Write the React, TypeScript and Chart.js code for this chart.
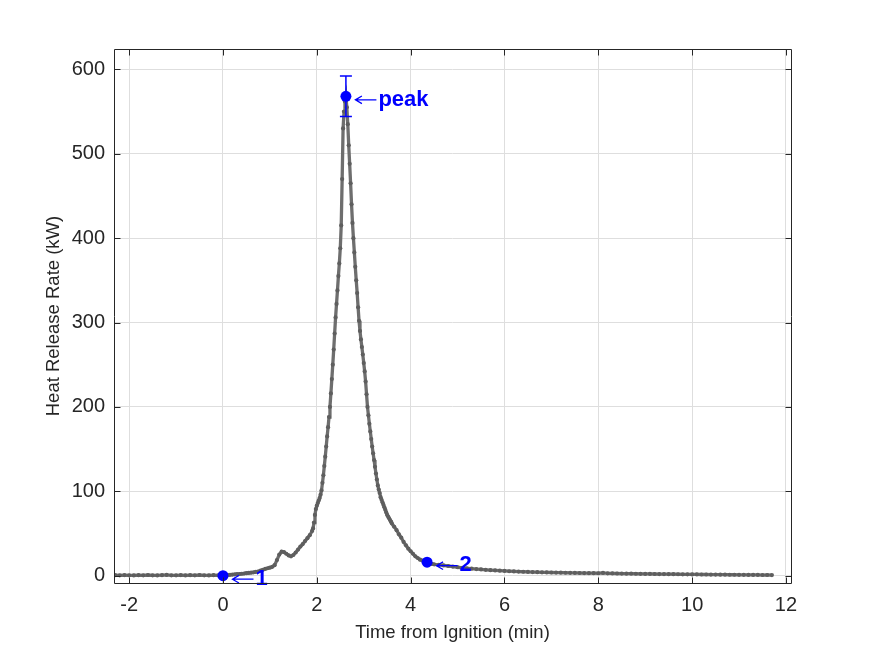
import { useEffect, useRef } from 'react';
import { Chart, registerables } from 'chart.js';

Chart.register(...registerables);

// ---------- data (minutes, kW) ----------
const preTime = [-2.3, -2.2, -2.1, -2.0, -1.9, -1.8, -1.7, -1.6, -1.5, -1.4, -1.3, -1.2, -1.1, -1.0, -0.9, -0.8, -0.7, -0.6, -0.5, -0.4, -0.3, -0.2, -0.1, 0.0];
const preHrr = [0.6, 0.4, 0.7, 0.5, 0.3, 0.6, 0.4, 0.8, 0.5, 0.3, 0.6, 0.9, 0.4, 0.5, 0.7, 0.3, 0.6, 0.4, 0.8, 0.5, 0.3, 0.6, 0.4, 0.3];

const growthTime = [0.05, 0.1, 0.15, 0.2, 0.25, 0.3, 0.35, 0.4, 0.45, 0.5, 0.55, 0.6, 0.65, 0.7, 0.75, 0.8, 0.85, 0.9, 0.95, 1.0, 1.05, 1.1, 1.15, 1.2, 1.25, 1.3, 1.35, 1.4, 1.45, 1.5, 1.55, 1.6, 1.65, 1.7, 1.75, 1.8, 1.85, 1.9];
const growthHrr = [0.6, 0.8, 1.0, 1.3, 1.5, 1.8, 2.0, 2.3, 2.6, 3.0, 3.3, 3.6, 4.0, 4.5, 5.0, 6.0, 7.0, 8.0, 8.8, 9.5, 10.5, 12.5, 18.5, 25, 28.5, 28, 26, 24, 23, 24.5, 27.5, 31, 34.5, 37.5, 41, 44.5, 48, 53];

const peakTime = [1.92, 1.94, 1.96, 1.98, 2.0, 2.02, 2.04, 2.06, 2.08, 2.1, 2.12, 2.14, 2.16, 2.18, 2.2, 2.22, 2.24, 2.26, 2.28, 2.3, 2.32, 2.34, 2.36, 2.38, 2.4, 2.42, 2.44, 2.46, 2.48, 2.5, 2.52, 2.54, 2.56, 2.58, 2.6, 2.62, 2.64, 2.66, 2.68, 2.7, 2.72, 2.74, 2.76, 2.78, 2.8, 2.82, 2.84, 2.86, 2.88, 2.9, 2.92, 2.94, 2.96, 2.98, 3.0, 3.02, 3.04, 3.06, 3.08, 3.1, 3.12, 3.14, 3.16, 3.18, 3.2, 3.22, 3.24, 3.26, 3.28, 3.3, 3.32, 3.34, 3.36, 3.38, 3.4, 3.42, 3.44, 3.46, 3.48, 3.5, 3.52, 3.54, 3.56, 3.58, 3.6];
const peakHrr = [56, 63, 72, 79, 83, 86, 89, 92, 96, 101, 110, 119, 130, 141, 153, 165, 176, 188, 200, 216, 233, 250, 268, 287, 306, 322, 338, 355, 370, 388, 415, 470, 530, 550, 562, 568, 555, 535, 510, 488, 465, 440, 418, 400, 383, 366, 350, 335, 318, 302, 290, 280, 271, 262, 252, 242, 230, 215, 200, 190, 180, 171, 162, 153, 145, 137, 129, 121, 114, 107, 102, 98, 93, 90, 87, 84, 81, 78, 75, 72, 70, 68, 66, 64, 62];

const decayTime = [3.65, 3.7, 3.75, 3.8, 3.85, 3.9, 3.95, 4.0, 4.05, 4.1, 4.15, 4.2, 4.25, 4.3, 4.35, 4.4, 4.45, 4.5];
const decayHrr = [58, 54, 49, 45, 40, 36, 32, 29, 26, 23, 21, 19, 18, 17, 16, 15, 14, 13.5];

const tailTime = [4.6, 4.7, 4.8, 4.9, 5.0, 5.1, 5.2, 5.3, 5.4, 5.5, 5.6, 5.7, 5.8, 5.9, 6.0, 6.1, 6.2, 6.3, 6.4, 6.5, 6.6, 6.7, 6.8, 6.9, 7.0, 7.1, 7.2, 7.3, 7.4, 7.5, 7.6, 7.7, 7.8, 7.9, 8.0, 8.1, 8.2, 8.3, 8.4, 8.5, 8.6, 8.7, 8.8, 8.9, 9.0, 9.1, 9.2, 9.3, 9.4, 9.5, 9.6, 9.7, 9.8, 9.9, 10.0, 10.1, 10.2, 10.3, 10.4, 10.5, 10.6, 10.7, 10.8, 10.9, 11.0, 11.1, 11.2, 11.3, 11.4, 11.5, 11.6, 11.7];
const tailHrr = [12.8, 12.2, 11.5, 10.8, 10.0, 9.4, 8.8, 8.3, 7.8, 7.4, 7.0, 6.6, 6.2, 5.9, 5.6, 5.3, 5.1, 4.9, 4.7, 4.5, 4.3, 4.2, 4.0, 3.9, 3.8, 3.7, 3.6, 3.5, 3.4, 3.3, 3.2, 3.1, 3.0, 3.0, 2.9, 3.3, 2.8, 2.7, 2.6, 2.5, 2.4, 2.4, 2.3, 2.2, 2.1, 2.1, 2.0, 1.9, 1.9, 1.8, 1.8, 1.7, 1.6, 1.6, 1.5, 1.5, 1.4, 1.4, 1.3, 1.3, 1.2, 1.2, 1.1, 1.1, 1.0, 1.0, 0.9, 0.9, 0.9, 0.8, 0.8, 0.7];

const eventLabels = ['1', 'peak', '2'];
const eventTime = [0, 2.62, 4.35];
const eventHrr = [0, 568, 16];
const peakError = 24;

const xTickStep = 2;
const yTickStep = 100;
const xLimits = [-2.323, 12.107];
const yLimits = [-8.65, 624.1];

const xTitle = 'Time from Ignition (min)';
const yTitle = 'Heat Release Rate (kW)';

// ---------- style ----------
const FONT = "'Liberation Sans', Arial, Helvetica, sans-serif";
const TEXT = '#262626';
const BLUE = '#0000ff';

const allTime = [...preTime, ...growthTime, ...peakTime, ...decayTime, ...tailTime];
const allHrr = [...preHrr, ...growthHrr, ...peakHrr, ...decayHrr, ...tailHrr];

const framePlugin = {
  id: 'frame',
  afterDatasetsDraw(chart: any) {
    const { ctx, chartArea, scales } = chart;
    const xs = scales.x;
    const ys = scales.y;
    const { left, right, top, bottom } = chartArea;
    ctx.save();

    // error bar on the peak event
    const pi = eventLabels.indexOf('peak');
    const epx = xs.getPixelForValue(eventTime[pi]);
    const eTop = ys.getPixelForValue(eventHrr[pi] + peakError);
    const eBot = ys.getPixelForValue(eventHrr[pi] - peakError);
    ctx.strokeStyle = BLUE;
    ctx.lineWidth = 1.5;
    ctx.beginPath();
    ctx.moveTo(epx, eTop);
    ctx.lineTo(epx, eBot);
    ctx.moveTo(epx - 6, eTop);
    ctx.lineTo(epx + 6, eTop);
    ctx.moveTo(epx - 6, eBot);
    ctx.lineTo(epx + 6, eBot);
    ctx.stroke();

    // event annotations: arrow + bold label
    for (let i = 0; i < eventLabels.length; i++) {
      const px = xs.getPixelForValue(eventTime[i]);
      const py = ys.getPixelForValue(eventHrr[i]);
      const ay = py + 3.5;
      ctx.strokeStyle = BLUE;
      ctx.lineWidth = 1.3;
      ctx.beginPath();
      ctx.moveTo(px + 9.5, ay);
      ctx.lineTo(px + 30.5, ay);
      ctx.moveTo(px + 16, ay - 3.8);
      ctx.lineTo(px + 9.5, ay);
      ctx.lineTo(px + 16, ay + 3.8);
      ctx.stroke();
      ctx.fillStyle = BLUE;
      ctx.font = `bold 22px ${FONT}`;
      ctx.textAlign = 'left';
      ctx.textBaseline = 'alphabetic';
      ctx.fillText(eventLabels[i], px + 32.5, py + 9.2);
    }

    // box
    ctx.strokeStyle = TEXT;
    ctx.lineWidth = 1;
    ctx.beginPath();
    ctx.rect(left + 0.5, top + 0.5, right - left, bottom - top);
    ctx.stroke();

    // inward ticks on all four sides
    const tl = 6;
    ctx.beginPath();
    for (const t of xs.ticks) {
      const x = Math.round(xs.getPixelForValue(t.value)) + 0.5;
      ctx.moveTo(x, bottom + 0.5);
      ctx.lineTo(x, bottom + 0.5 - tl);
      ctx.moveTo(x, top + 0.5);
      ctx.lineTo(x, top + 0.5 + tl);
    }
    for (const t of ys.ticks) {
      const y = Math.round(ys.getPixelForValue(t.value)) + 0.5;
      ctx.moveTo(left + 0.5, y);
      ctx.lineTo(left + 0.5 + tl, y);
      ctx.moveTo(right + 0.5, y);
      ctx.lineTo(right + 0.5 - tl, y);
    }
    ctx.stroke();
    ctx.restore();
  },
};

export default function App() {
  const ref = useRef<HTMLCanvasElement>(null);

  useEffect(() => {
    const canvas = ref.current;
    if (!canvas) return;
    const hrrPoints = allTime.map((t, i) => ({ x: t, y: allHrr[i] }));
    const eventPoints = eventTime.map((t, i) => ({ x: t, y: eventHrr[i] }));

    const chart = new Chart(canvas, {
      type: 'scatter',
      data: {
        datasets: [
          {
            label: 'events',
            data: eventPoints,
            showLine: false,
            pointRadius: 5.5,
            pointBackgroundColor: BLUE,
            pointBorderWidth: 0,
            order: 0,
          },
          {
            label: 'HRR',
            data: hrrPoints,
            showLine: true,
            borderColor: '#6e6e6e',
            borderWidth: 3.3,
            tension: 0,
            pointRadius: 2.1,
            pointBackgroundColor: '#5e5e5e',
            pointBorderWidth: 0,
            order: 1,
          },
        ],
      },
      options: {
        responsive: false,
        animation: false,
        events: [],
        layout: { padding: { left: 0, top: 49, right: 84, bottom: 0 } },
        plugins: {
          legend: { display: false },
          tooltip: { enabled: false },
        },
        scales: {
          x: {
            type: 'linear',
            min: xLimits[0],
            max: xLimits[1],
            afterFit: (s: any) => {
              s.height = 73;
            },
            ticks: {
              stepSize: xTickStep,
              includeBounds: false,
              autoSkip: false,
              maxRotation: 0,
              padding: 10,
              color: TEXT,
              font: { family: FONT, size: 20 },
            },
            grid: { color: '#dedede', lineWidth: 1, drawTicks: false },
            border: { display: false },
            title: {
              display: true,
              text: xTitle,
              color: TEXT,
              font: { family: FONT, size: 18.5 },
              padding: { top: 0, bottom: 12.3 },
            },
          },
          y: {
            type: 'linear',
            min: yLimits[0],
            max: yLimits[1],
            afterFit: (s: any) => {
              s.width = 114;
            },
            ticks: {
              stepSize: yTickStep,
              includeBounds: false,
              autoSkip: false,
              padding: 9,
              color: TEXT,
              font: { family: FONT, size: 20 },
            },
            grid: { color: '#dedede', lineWidth: 1, drawTicks: false },
            border: { display: false },
            title: {
              display: true,
              text: yTitle,
              color: TEXT,
              font: { family: FONT, size: 18.5 },
              padding: { top: 42.5, bottom: 0 },
            },
          },
        },
      },
      plugins: [framePlugin],
    });

    return () => chart.destroy();
  }, []);

  return (
    <div style={{ position: 'fixed', left: 0, top: 0, width: 875, height: 656, background: '#ffffff' }}>
      <canvas ref={ref} width={875} height={656} style={{ display: 'block', width: 875, height: 656 }} />
    </div>
  );
}
